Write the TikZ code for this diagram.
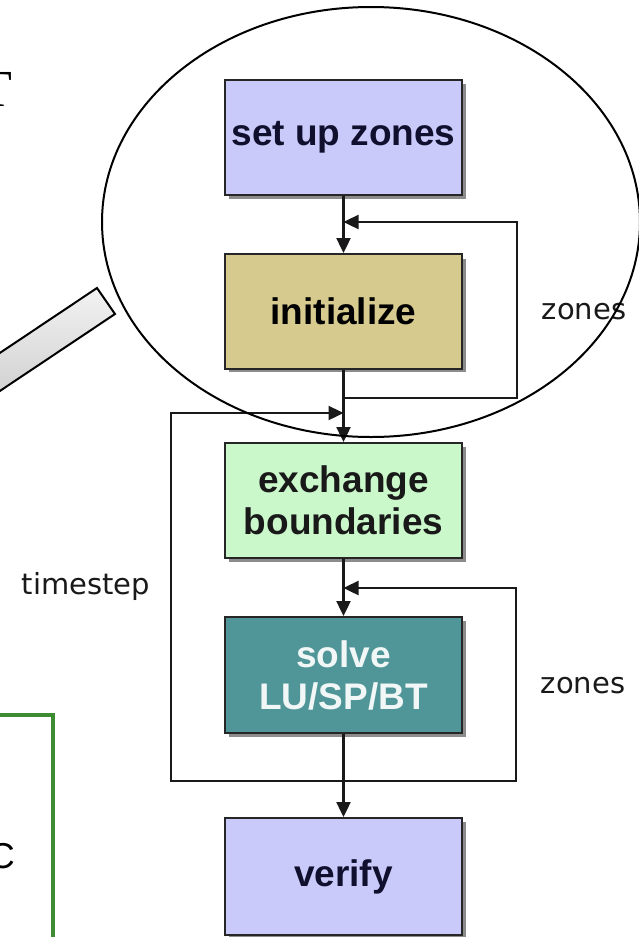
\documentclass[tikz,border=0pt]{standalone}
\usepackage{fontspec}
\setmainfont{Liberation Sans}
\newfontfamily\lblfont{DejaVu Sans}
\newfontfamily\serifT{Liberation Serif}
\usetikzlibrary{arrows.meta}
\definecolor{lav}{RGB}{202,202,250}
\definecolor{tan}{RGB}{214,202,142}
\definecolor{lgreen}{RGB}{202,248,202}
\definecolor{teal2}{RGB}{80,150,152}
\definecolor{navy}{RGB}{16,16,46}
\definecolor{frame}{RGB}{62,140,50}
\tikzset{
  stepbox/.style={draw=black!85, line width=2pt, minimum width=237pt, minimum height=115pt,
    inner sep=0pt, align=center, text=navy,
    font=\fontsize{37}{42}\selectfont\bfseries},
  shadowbox/.style={fill=black!45, draw=none},
  flow/.style={line width=2.4pt, draw=black!90, -{Triangle[length=15pt,width=14pt]}},
  lbl/.style={font=\lblfont\fontsize{29}{29}\selectfont, text=black!90}
}
\begin{document}
\begin{tikzpicture}[x=1pt,y=-1pt]
\useasboundingbox (0,0) rectangle (639,937);
% shadows
\foreach \t/\b in {80/195,255/368,443/558,617/733,818/935}
  \fill[shadowbox] (229,\t+4) rectangle (466,\b+4);
% boxes
\node[stepbox, fill=lav] (setup) at (343.5,137.5) {set up zones};
\node[stepbox, fill=tan, text=black] (init) at (343.5,311.5) {initialize};
\node[stepbox, fill=lgreen, text=black!90, minimum height=115pt] (exch) at (343.5,500.5) {exchange\\boundaries};
\node[stepbox, fill=teal2, text=white!92!teal2, minimum height=116pt] (solve) at (343.5,675) {solve\\LU/SP/BT};
\node[stepbox, fill=lav, minimum height=117pt] (verify) at (343.5,876.5) {verify};
% junction coordinates
\coordinate (z1top) at (343.5,222);
\coordinate (z1r1) at (517,222);
\coordinate (z1r2) at (517,398);
\coordinate (z1bot) at (343.5,398);
\coordinate (tstop) at (343.5,413);
\coordinate (tsl1) at (171,413);
\coordinate (tsl2) at (171,781);
\coordinate (bot) at (343.5,781);
\coordinate (z2top) at (343.5,588);
\coordinate (z2r1) at (516,588);
\coordinate (z2r2) at (516,781);
% main flow
\draw[flow] (setup.south) -- (init.north);
\draw[flow] (init.south) -- (exch.north);
\draw[flow] (exch.south) -- (solve.north);
\draw[flow] (solve.south) -- (verify.north);
% loops
\draw[flow] (z1bot) -- (z1r2) -- (z1r1) -- (z1top);
\draw[flow] (bot) -- (tsl2) -- (tsl1) -- (tstop);
\draw[flow] (bot) -- (z2r2) -- (z2r1) -- (z2top);
% labels
\node[lbl] (lz1) at (584,312) {zones};
\node[lbl] (lz2) at (583,686) {zones};
\node[lbl] (lts) at (86,586) {timestep};
% partial slide content
\node[font=\serifT\fontsize{52}{52}\selectfont, anchor=base, inner sep=0pt] (tT) at (-4,106) {T};
\node[font=\fontsize{36}{36}\selectfont, anchor=base east, inner sep=0pt] (tC) at (15,868) {C};
\draw[frame, line width=3.5pt] (-20,715) -- (53,715) -- (53,950);
% magnifier handle
\path[draw=black, line width=2pt, top color=gray!10, bottom color=gray!45]
  (97,288) -- (115,314) -- (-60,431) -- (-78,405) -- cycle;
% magnifier lens
\draw[line width=2pt, black] (371,222) ellipse [x radius=269pt, y radius=215pt];
\end{tikzpicture}
\end{document}
